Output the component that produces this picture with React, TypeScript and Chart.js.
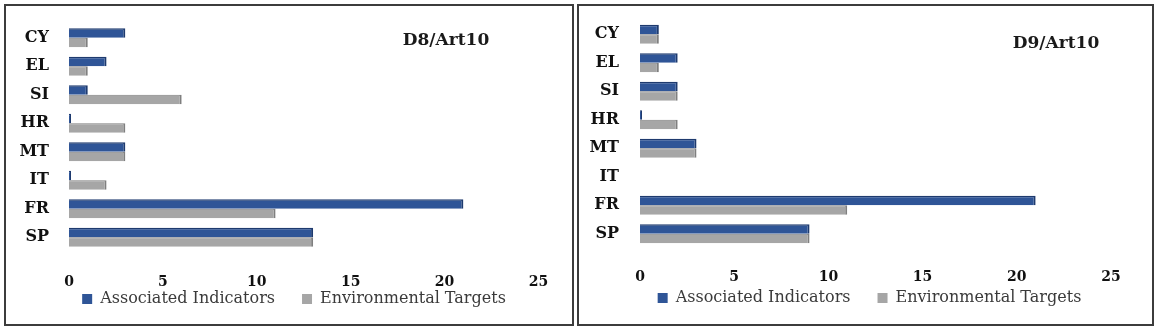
import React, { useEffect, useRef } from 'react';
import { Chart, registerables } from 'chart.js';

Chart.register(...registerables);

// ---- data ----
const categories = ['CY', 'EL', 'SI', 'HR', 'MT', 'IT', 'FR', 'SP'];
const xTicks = [0, 5, 10, 15, 20, 25];
const seriesNames = ['Associated Indicators', 'Environmental Targets'];
const d8Associated: (number | null)[] = [3, 2, 1, 0, 3, 0, 21, 13];
const d8Environmental: (number | null)[] = [1, 1, 6, 3, 3, 2, 11, 13];
const d9Associated: (number | null)[] = [1, 2, 2, 0, 3, null, 21, 9];
const d9Environmental: (number | null)[] = [1, 1, 2, 2, 3, null, 11, 9];

const FONT = "'DejaVu Serif', 'Liberation Serif', serif";
const BLUE = '#2F5597';
const BLUE_DARK = '#1E3A6E';
const GRAY = '#A6A6A6';
const GRAY_DARK = '#7F7F7F';

interface Cfg {
  pr: number; pt: number; bottom: number;
  yWidth: number; xPad: number; yPad: number;
  titleX: number; titleY: number;
  legendCenter: number; legendTop: number;
}

interface PanelProps {
  title: string;
  associated: (number | null)[];
  environmental: (number | null)[];
  left: number;
  width: number;
  cfg: Cfg;
}

function Panel({ title, associated, environmental, left, width, cfg }: PanelProps) {
  const ref = useRef<HTMLCanvasElement | null>(null);
  const cw = width - 4;
  const ch = 318;

  useEffect(() => {
    if (!ref.current) return;
    const titlePlugin = {
      id: 'panelTitle',
      afterDraw(chart: any) {
        const ctx = chart.ctx;
        ctx.save();
        ctx.font = `bold 17px ${FONT}`;
        ctx.fillStyle = '#1a1a1a';
        ctx.textAlign = 'center';
        ctx.textBaseline = 'middle';
        ctx.fillText(title, cfg.titleX, cfg.titleY);
        ctx.restore();
      },
    };
    const legendPlace = {
      id: 'legendPlace',
      afterLayout(chart: any) {
        const lg = chart.legend;
        if (!lg) return;
        const dx = cfg.legendCenter - (lg.left + lg.right) / 2;
        lg.left += dx;
        lg.right += dx;
        lg.top = cfg.legendTop;
        lg.bottom = cfg.legendTop + 52;
      },
    };
    const legendLayoutHeight = 2;
    const chart = new Chart(ref.current, {
      type: 'bar',
      data: {
        labels: categories,
        datasets: [
          {
            label: seriesNames[0],
            data: associated,
            backgroundColor: BLUE,
            borderColor: BLUE_DARK,
            borderWidth: { top: 1.5, right: 2, bottom: 0, left: 0 },
            borderSkipped: false,
            minBarLength: 2,
            categoryPercentage: 0.66,
            barPercentage: 1,
          },
          {
            label: seriesNames[1],
            data: environmental,
            backgroundColor: GRAY,
            borderColor: GRAY_DARK,
            borderWidth: { top: 1, right: 2, bottom: 0, left: 0 },
            borderSkipped: false,
            minBarLength: 2,
            categoryPercentage: 0.66,
            barPercentage: 1,
          },
        ],
      },
      options: {
        indexAxis: 'y',
        animation: false,
        responsive: false,
        devicePixelRatio: 1,
        layout: { padding: { left: 0, right: cfg.pr, top: cfg.pt, bottom: 0 } },
        scales: {
          x: {
            type: 'linear',
            min: xTicks[0],
            max: xTicks[xTicks.length - 1],
            grid: { display: false, drawTicks: false },
            border: { display: false },
            afterBuildTicks: (scale: any) => {
              scale.ticks = xTicks.map((v) => ({ value: v }));
            },
            afterFit: (scale: any) => {
              scale.height = ch - legendLayoutHeight - cfg.bottom;
              scale.paddingLeft = 0;
              scale.paddingRight = 0;
            },
            ticks: {
              padding: cfg.xPad,
              color: '#111',
              font: { family: FONT, size: 14, weight: 'bold' },
            },
          },
          y: {
            type: 'category',
            grid: { display: false, drawTicks: false },
            border: { display: false },
            afterFit: (scale: any) => {
              scale.width = cfg.yWidth;
              scale.paddingTop = 0;
              scale.paddingBottom = 0;
            },
            ticks: {
              padding: cfg.yPad,
              color: '#111',
              font: { family: FONT, size: 16, weight: 'bold' },
            },
          },
        },
        plugins: {
          legend: {
            position: 'bottom',
            maxHeight: legendLayoutHeight,
            labels: {
              boxWidth: 10,
              boxHeight: 10,
              padding: 27,
              color: '#3a3a3a',
              font: { family: FONT, size: 16 },
              generateLabels: (chart: any) =>
                chart.data.datasets.map((ds: any, i: number) => ({
                  text: ds.label,
                  fillStyle: ds.backgroundColor,
                  strokeStyle: ds.backgroundColor,
                  lineWidth: 0,
                  hidden: false,
                  datasetIndex: i,
                  fontColor: '#3a3a3a',
                })),
            },
          },
          tooltip: { enabled: false },
          title: { display: false },
        },
      },
      plugins: [titlePlugin, legendPlace],
    } as any);
    return () => chart.destroy();
  }, []);

  return (
    <div
      style={{
        position: 'absolute',
        left,
        top: 4,
        width,
        height: 322,
        boxSizing: 'border-box',
        border: '2px solid #3c3c3c',
        background: '#fff',
      }}
    >
      <canvas ref={ref} width={cw} height={ch} style={{ display: 'block', width: cw, height: ch }} />
    </div>
  );
}

export default function App() {
  return (
    <div style={{ position: 'absolute', left: 0, top: 0, width: 1159, height: 329, background: '#fff' }}>
      <Panel
        title="D8/Art10"
        associated={d8Associated}
        environmental={d8Environmental}
        left={4}
        width={570}
        cfg={{ pr: 33.5, pt: 17.5, bottom: 245.5, yWidth: 63, xPad: 22, yPad: 20, titleX: 440, titleY: 35, legendCenter: 288, legendTop: 258 }}
      />
      <Panel
        title="D9/Art10"
        associated={d9Associated}
        environmental={d9Environmental}
        left={577}
        width={577}
        cfg={{ pr: 41, pt: 14, bottom: 242, yWidth: 61, xPad: 21, yPad: 21, titleX: 477, titleY: 38, legendCenter: 290.5, legendTop: 257 }}
      />
    </div>
  );
}
